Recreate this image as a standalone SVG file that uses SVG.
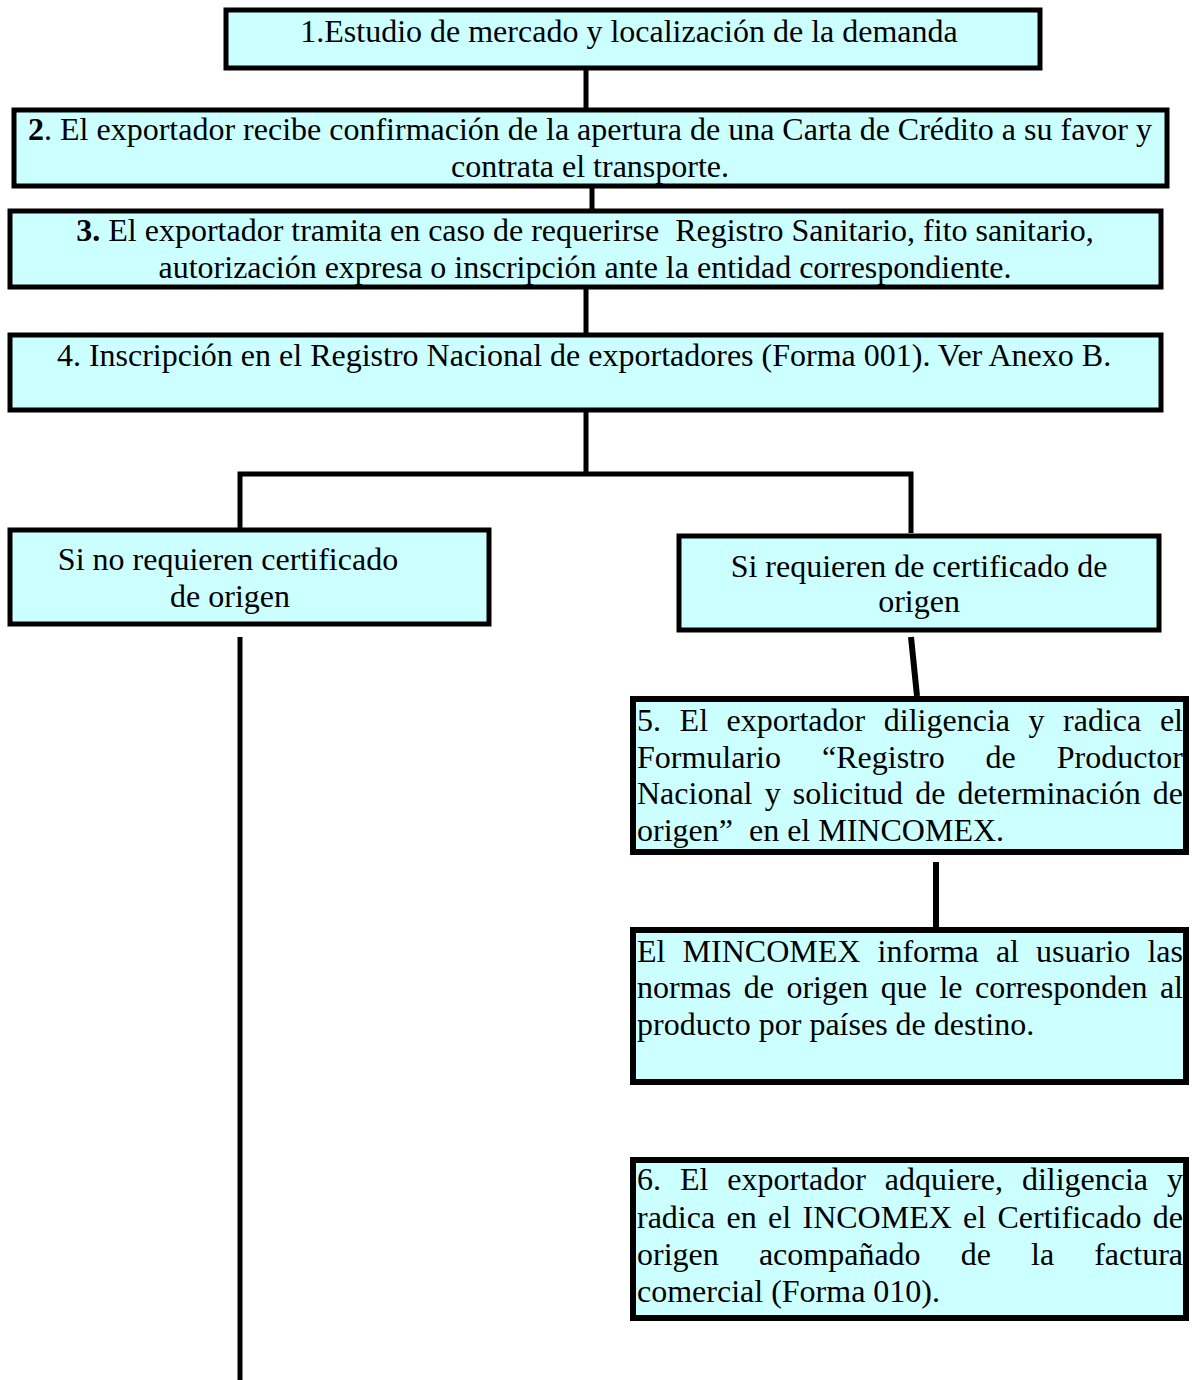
<svg xmlns="http://www.w3.org/2000/svg" width="1197" height="1380" viewBox="0 0 1197 1380">
<style>
.box{fill:#CCFFFF;stroke:#000;stroke-width:5}
.box6{fill:#CCFFFF;stroke:#000;stroke-width:6}
.t{font-family:"Liberation Serif","Times New Roman",serif;font-size:32px;fill:#000}
.c{text-anchor:middle}
.b{font-weight:bold}
.ln{stroke:#000;stroke-width:5;fill:none}
.ln6{stroke:#000;stroke-width:6;fill:none}
</style>
<rect width="1197" height="1380" fill="#fff"/>
<g id="connectors">
<line class="ln" x1="586" y1="70" x2="586" y2="110"/>
<line class="ln" x1="592" y1="188" x2="592" y2="211"/>
<line class="ln" x1="586" y1="289" x2="586" y2="335"/>
<line class="ln" x1="586" y1="412" x2="586" y2="474"/>
<polyline class="ln" points="240,530 240,474 911,474 911,533"/>
<line class="ln" x1="240" y1="637" x2="240" y2="1380"/>
<line class="ln6" x1="911" y1="637" x2="917" y2="696"/>
<line class="ln6" x1="936" y1="862" x2="936" y2="938"/>
</g>
<g id="n1">
<rect class="box" x="226" y="10" width="814" height="58"/>
<text class="t c" x="629" y="42">1.Estudio de mercado y localización de la demanda</text>
</g>
<g id="n2">
<rect class="box" x="14" y="110" width="1153" height="76"/>
<text class="t c" x="590" y="140"><tspan class="b">2</tspan>. El exportador recibe confirmación de la apertura de una Carta de Crédito a su favor y</text>
<text class="t c" x="590" y="177">contrata el transporte.</text>
</g>
<g id="n3">
<rect class="box" x="10" y="211" width="1151" height="76"/>
<text class="t c" x="585" y="241" xml:space="preserve"><tspan class="b">3.</tspan> El exportador tramita en caso de requerirse  Registro Sanitario, fito sanitario,</text>
<text class="t c" x="585" y="278">autorización expresa o inscripción ante la entidad correspondiente.</text>
</g>
<g id="n4">
<rect class="box" x="10" y="335" width="1151" height="75"/>
<text class="t c" x="584" y="366">4. Inscripción en el Registro Nacional de exportadores (Forma 001). Ver Anexo B.</text>
</g>
<g id="n_no">
<rect class="box" x="10" y="530" width="479" height="94"/>
<text class="t c" x="228" y="570">Si no requieren certificado</text>
<text class="t c" x="230" y="607">de origen</text>
</g>
<g id="n_si">
<rect class="box" x="679" y="536" width="480" height="94"/>
<text class="t c" x="919" y="577">Si requieren de certificado de</text>
<text class="t c" x="919" y="612">origen</text>
</g>
<g id="n5">
<rect class="box6" x="633" y="699" width="553" height="153"/>
<text class="t" y="731"><tspan x="637">5.</tspan><tspan x="679.6">El</tspan><tspan x="726.6">exportador</tspan><tspan x="883.8">diligencia</tspan><tspan x="1028.6">y</tspan><tspan x="1063.1">radica</tspan><tspan x="1159.9">el</tspan></text>
<text class="t" y="768"><tspan x="637">Formulario</tspan><tspan x="822">“Registro</tspan><tspan x="985.6">de</tspan><tspan x="1056.8">Productor</tspan></text>
<text class="t" y="804"><tspan x="637">Nacional</tspan><tspan x="764.7">y</tspan><tspan x="792.8">solicitud</tspan><tspan x="915.2">de</tspan><tspan x="957.6">determinación</tspan><tspan x="1152.8">de</tspan></text>
<text class="t" x="637" y="841" xml:space="preserve">origen”  en el MINCOMEX.</text>
</g>
<g id="n_mincomex">
<rect class="box6" x="633" y="930" width="553" height="152"/>
<text class="t" y="962"><tspan x="637">El</tspan><tspan x="682.6">MINCOMEX</tspan><tspan x="877.5">informa</tspan><tspan x="995.9">al</tspan><tspan x="1036.1">usuario</tspan><tspan x="1147.4">las</tspan></text>
<text class="t" y="998"><tspan x="637">normas</tspan><tspan x="743.7">de</tspan><tspan x="786.4">origen</tspan><tspan x="880.7">que</tspan><tspan x="939.4">le</tspan><tspan x="975">corresponden</tspan><tspan x="1159.9">al</tspan></text>
<text class="t" x="637" y="1035">producto por países de destino.</text>
</g>
<g id="n6">
<rect class="box6" x="633" y="1160" width="553" height="158"/>
<text class="t" y="1190"><tspan x="637">6.</tspan><tspan x="679.9">El</tspan><tspan x="727.3">exportador</tspan><tspan x="884.8">adquiere,</tspan><tspan x="1021.9">diligencia</tspan><tspan x="1167">y</tspan></text>
<text class="t" y="1228"><tspan x="637">radica</tspan><tspan x="726.5">en</tspan><tspan x="768">el</tspan><tspan x="802.5">INCOMEX</tspan><tspan x="963.1">el</tspan><tspan x="997.5">Certificado</tspan><tspan x="1152.8">de</tspan></text>
<text class="t" y="1265"><tspan x="637">origen</tspan><tspan x="758.9">acompañado</tspan><tspan x="960.7">de</tspan><tspan x="1031">la</tspan><tspan x="1094.2">factura</tspan></text>
<text class="t" x="637" y="1302">comercial (Forma 010).</text>
</g>
</svg>
